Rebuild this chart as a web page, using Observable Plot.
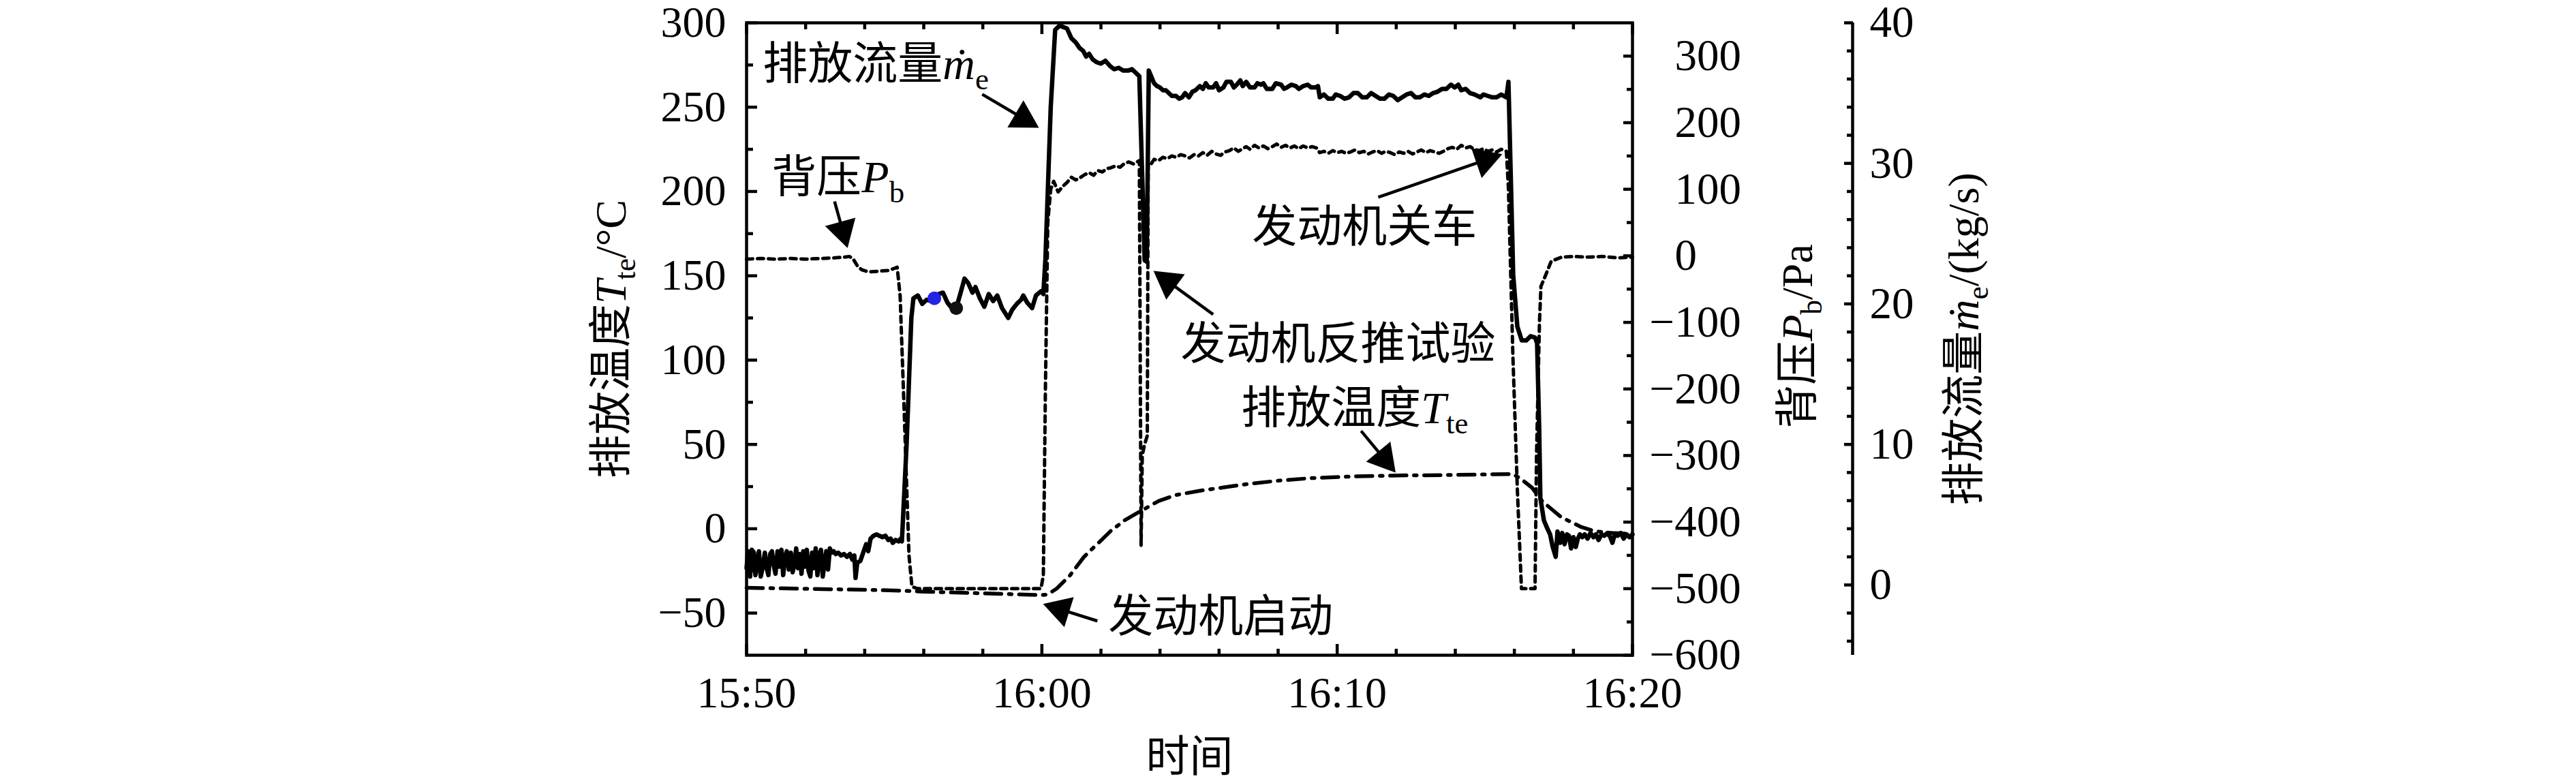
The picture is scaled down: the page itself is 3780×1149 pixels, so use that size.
<!DOCTYPE html>
<html><head><meta charset="utf-8">
<script src="https://cdn.jsdelivr.net/npm/d3@7"></script>
<script src="https://cdn.jsdelivr.net/npm/@observablehq/plot@0.6"></script>
<style>html,body{margin:0;padding:0;background:#fff;}</style>
</head><body><div id="chart"></div>
<script>
// ---------------- data (time in minutes after 15:50) ----------------
const xTickValues = [0, 10, 20, 30];
const xTickLabels = ["15:50", "16:00", "16:10", "16:20"];
const xMinorTicks = [2, 4, 6, 8, 12, 14, 16, 18, 22, 24, 26, 28];
const tMajorTicks = [-50, 0, 50, 100, 150, 200, 250, 300];
const tMinorTicks = [-25, 25, 75, 125, 175, 225, 275];
const pbLabelTicks = [-600, -500, -400, -300, -200, -100, 0, 100, 200, 300];
const pbMinorTicks = [-550, -450, -350, -250, -150, -50, 50, 150, 250];
const flowMajorTicks = [0, 10, 20, 30, 40];
const flowMinorTicks = [-4, -2, 2, 4, 6, 8, 12, 14, 16, 18, 22, 24, 26, 28, 32, 34, 36, 38];

// exhaust mass flow (kg/s)
const flowSeries = [[0,1.2],[0.05,2.4],[0.12,0.6],[0.18,2.5],[0.25,2.3],[0.3,0.7],[0.36,1.4],[0.42,2.4],[0.48,0.6],[0.55,1.3],[0.62,2.3],[0.68,1.2],[0.74,0.7],[0.8,2.2],[0.86,2.4],[0.92,1.4],[0.98,0.8],[1.05,2.4],[1.12,1.3],[1.18,2.5],[1.24,0.7],[1.3,1.9],[1.36,2.4],[1.43,1.1],[1.5,2.3],[1.56,0.9],[1.62,1.5],[1.68,2.6],[1.74,1.2],[1.8,2.2],[1.86,0.8],[1.92,2.4],[1.98,1.3],[2.04,2.5],[2.1,1.0],[2.16,0.6],[2.22,2.3],[2.28,1.2],[2.34,2.6],[2.4,0.7],[2.46,2.1],[2.52,2.5],[2.58,0.6],[2.64,1.6],[2.7,2.4],[2.76,1.1],[2.82,2.6],[2.88,2.3],[2.95,2.4],[3.02,2.2],[3.1,2.3],[3.2,2.1],[3.3,2.2],[3.4,2.0],[3.5,2.2],[3.58,1.8],[3.65,2.1],[3.69,0.5],[3.75,1.6],[3.85,1.7],[3.95,2.3],[4.05,2.9],[4.12,2.4],[4.2,3.3],[4.3,3.5],[4.4,3.6],[4.5,3.5],[4.6,3.4],[4.7,3.5],[4.8,3.2],[4.88,3.3],[4.95,3.0],[5.05,3.2],[5.15,3.1],[5.22,3.3],[5.26,3.1],[5.42,10.0],[5.58,19.0],[5.65,20.4],[5.8,20.6],[5.95,20.0],[6.1,20.3],[6.25,20.2],[6.36,20.4],[6.5,20.7],[6.65,20.8],[6.8,20.1],[6.95,19.7],[7.1,19.7],[7.25,20.8],[7.38,21.8],[7.5,21.5],[7.65,20.8],[7.75,21.2],[7.9,20.4],[8.05,19.8],[8.2,20.7],[8.35,20.2],[8.49,20.6],[8.65,19.7],[8.86,19.0],[9.0,19.6],[9.15,20.0],[9.3,20.3],[9.37,20.6],[9.5,20.1],[9.67,19.7],[9.8,20.6],[9.97,20.9],[10.05,20.7],[10.12,23.2],[10.3,34.0],[10.45,39.5],[10.6,39.8],[10.85,39.6],[11.0,38.9],[11.15,38.6],[11.28,38.2],[11.4,38.0],[11.5,37.6],[11.6,37.8],[11.72,37.4],[11.85,37.2],[12.0,37.1],[12.15,37.3],[12.32,36.9],[12.45,36.7],[12.6,36.8],[12.75,36.6],[12.92,36.6],[13.05,36.7],[13.15,36.5],[13.3,36.2],[13.48,23.1],[13.55,23.0],[13.62,36.6],[13.8,35.7],[13.9,35.5],[14.0,35.4],[14.1,35.2],[14.2,35.2],[14.3,35.0],[14.4,34.8],[14.54,34.8],[14.65,34.6],[14.75,34.7],[14.85,35.0],[14.98,34.7],[15.1,35.1],[15.2,35.2],[15.35,35.5],[15.45,35.3],[15.55,35.7],[15.65,35.4],[15.8,35.4],[15.9,35.7],[16.0,35.2],[16.15,35.4],[16.25,35.8],[16.4,35.8],[16.5,35.4],[16.6,35.6],[16.72,35.9],[16.8,35.5],[16.92,35.8],[17.05,35.4],[17.2,35.4],[17.3,35.7],[17.42,35.6],[17.5,35.7],[17.62,35.3],[17.8,35.3],[17.92,35.7],[18.1,35.6],[18.2,35.3],[18.3,35.4],[18.45,35.6],[18.6,35.5],[18.7,35.3],[18.85,35.5],[19.0,35.6],[19.12,35.4],[19.27,35.4],[19.35,35.5],[19.41,34.7],[19.55,34.9],[19.7,34.6],[19.85,34.6],[19.95,34.9],[20.1,34.8],[20.25,34.6],[20.4,34.7],[20.55,35.0],[20.7,35.0],[20.85,34.7],[21.0,34.7],[21.15,35.0],[21.3,34.8],[21.45,34.6],[21.6,34.6],[21.75,34.9],[21.9,34.8],[22.05,34.5],[22.2,34.7],[22.35,34.9],[22.5,35.0],[22.65,34.7],[22.8,34.7],[22.95,34.9],[23.1,34.8],[23.25,35.0],[23.4,35.1],[23.55,35.3],[23.7,35.3],[23.85,35.6],[23.98,35.4],[24.1,35.6],[24.2,35.2],[24.35,35.3],[24.5,35.0],[24.65,34.9],[24.85,34.7],[24.95,34.9],[25.1,34.8],[25.25,34.7],[25.4,34.7],[25.55,34.9],[25.73,34.7],[25.8,35.8],[25.96,22.1],[26.1,18.4],[26.25,17.4],[26.4,17.4],[26.55,17.7],[26.7,17.6],[26.77,17.2],[26.84,11.2],[26.88,6.2],[27.0,4.6],[27.12,4.0],[27.21,3.6],[27.3,2.7],[27.4,2.0],[27.46,3.8],[27.55,3.0],[27.62,3.7],[27.7,2.9],[27.78,3.6],[27.85,3.5],[27.92,2.6],[28.0,3.4],[28.08,2.7],[28.15,3.3],[28.22,3.6],[28.3,3.4],[28.38,3.6],[28.48,3.3],[28.58,3.7],[28.68,3.4],[28.76,3.6],[28.85,3.2],[28.95,3.6],[29.05,3.5],[29.15,3.7],[29.25,3.4],[29.32,3.0],[29.4,3.6],[29.5,3.5],[29.6,3.7],[29.7,3.3],[29.8,3.6],[29.9,3.4],[30.0,3.6]];

// back pressure (Pa)
const pbSeries = [[0,-5],[0.5,-4],[1.0,-5],[1.5,-4],[2.0,-5],[2.5,-4],[3.0,-3],[3.3,-2],[3.48,-1],[3.6,-4],[3.75,-15],[3.9,-21],[4.05,-23],[4.22,-24],[4.5,-23],[4.8,-22],[5.0,-19],[5.1,-17],[5.2,-60],[5.35,-250],[5.5,-450],[5.6,-497],[5.8,-500],[9.97,-500],[10.05,-480],[10.12,-200],[10.2,50],[10.3,100],[10.4,112],[10.55,96],[10.7,104],[10.85,110],[11.0,118],[11.15,114],[11.28,117],[11.45,122],[11.6,125],[11.75,121],[11.9,128],[12.05,126],[12.2,131],[12.32,132],[12.5,135],[12.65,133],[12.8,139],[12.95,141],[13.1,138],[13.3,143],[13.36,-435],[13.4,-300],[13.47,-285],[13.57,-270],[13.6,140],[13.7,138],[13.8,145],[13.95,143],[14.1,148],[14.25,146],[14.4,150],[14.55,148],[14.7,152],[14.85,150],[15.0,147],[15.15,152],[15.3,150],[15.45,155],[15.6,151],[15.75,157],[15.9,153],[16.05,151],[16.2,156],[16.35,158],[16.5,162],[16.65,157],[16.8,161],[16.92,164],[17.05,160],[17.2,166],[17.35,162],[17.5,165],[17.65,161],[17.8,164],[17.95,168],[18.1,163],[18.25,166],[18.4,162],[18.55,165],[18.7,161],[18.85,165],[19.0,162],[19.15,164],[19.3,162],[19.41,155],[19.55,157],[19.7,154],[19.85,158],[20.0,155],[20.15,157],[20.3,154],[20.45,156],[20.6,159],[20.75,155],[20.9,157],[21.05,153],[21.2,156],[21.35,158],[21.5,154],[21.65,157],[21.8,155],[21.95,152],[22.1,156],[22.25,154],[22.4,157],[22.55,153],[22.7,156],[22.85,159],[23.0,155],[23.15,158],[23.3,156],[23.45,154],[23.6,157],[23.75,161],[23.9,163],[24.05,160],[24.2,166],[24.35,162],[24.5,164],[24.65,160],[24.8,158],[24.95,161],[25.1,157],[25.25,159],[25.4,156],[25.55,160],[25.73,157],[25.8,100],[25.95,-150],[26.1,-350],[26.24,-500],[26.7,-500],[26.75,-300],[26.85,-100],[26.9,-46],[27.05,-30],[27.25,-8],[27.6,-2],[28.0,-1],[28.5,-2],[29.0,-1],[29.5,-3],[30.0,-2]];

// exhaust temperature (°C)
const tteSeries = [[0,-35.0],[2,-35.6],[4,-36.2],[5.26,-36.7],[6,-37.3],[8,-38.3],[9.97,-39.3],[10.2,-39.0],[10.5,-35.5],[10.96,-27.5],[11.42,-16.8],[11.58,-14],[12.0,-7],[12.32,-1.5],[12.8,5],[13.36,10.6],[13.96,16.5],[14.54,20],[15.44,22.8],[16.15,24.5],[16.92,26.4],[18.0,28.5],[19.1,30.0],[20.5,31.0],[22.06,31.6],[23.54,31.8],[25.0,32.2],[25.95,32.4],[26.19,30],[26.6,24.3],[26.95,16.2],[27.58,6.9],[28.27,1],[28.73,-1.5],[29.3,-2.5],[30,-3]];

// two marker points on the flow curve
const markerPoints = [[6.36, 20.4], [7.10, 19.7]];
const markerColors = ["#2323e6", "#111111"];

// annotations (text start in minutes / °C-axis units)
const annoText = ["排放流量<i>\u1E41</i><sub>e</sub>", "背压<i>P</i><sub>b</sub>", "发动机关车", "发动机反推试验", "排放温度<i>T</i><sub>te</sub>", "发动机启动"];
const annoX = [0.55, 0.85, 17.12, 14.7, 16.75, 12.25];
const annoY = [275, 208, 178.5, 109, 71, -52.5];
// arrows: [tailX, tailY, tipX, tipY]
const arrowList = [[7.98, 257.6, 9.9, 237.8], [2.98, 194.1, 3.42, 166.4], [21.39, 196.6, 25.59, 222.1], [15.8, 127.1, 13.78, 152.9], [20.81, 58.0, 21.98, 33.25], [11.88, -54.7, 10.04, -44.6]];

// ---------------- layout ----------------
const W = 3780, H = 1149;
const mL = 1095, mR = 1385, mT = 33, mB = 188;
const xDomain = [0, 30];
const tDomain = [-75, 300], pbDomain = [-600, 350], flowDomain = [-5, 40];
const pbToT = d3.scaleLinear(pbDomain, tDomain);
const flowToT = d3.scaleLinear(flowDomain, tDomain);
const FONT = "'Liberation Serif','Times New Roman','Noto Sans CJK SC',serif";
const fmt = d => d < 0 ? "\u2212" + Math.abs(d) : String(d);
const TW = 4.5;

const pxPerMin = (W - mL - mR) / (xDomain[1] - xDomain[0]);
const pxPerT = (H - mT - mB) / (tDomain[1] - tDomain[0]);
const headLen = 40;
const headR = Math.sqrt((headLen / 3) ** 2 * 3 * Math.sqrt(3) / Math.PI);
const arrows = arrowList.map(([x1, y1, x2, y2]) => {
  const dxp = (x2 - x1) * pxPerMin, dyp = -(y2 - y1) * pxPerT;
  const len = Math.hypot(dxp, dyp), ux = dxp / len, uy = dyp / len;
  const back = headLen * 2 / 3, sb = headLen * 0.6;
  return {x1, y1, x2, y2,
    hx: x2 - ux * back / pxPerMin, hy: y2 + uy * back / pxPerT,
    sx: x2 - ux * sb / pxPerMin, sy: y2 + uy * sb / pxPerT,
    rot: Math.atan2(ux, -uy) * 180 / Math.PI};
});
const annos = annoText.map((t, i) => ({t, x: annoX[i], y: annoY[i]}));

const chart = Plot.plot({
  width: W, height: H,
  marginLeft: mL, marginRight: mR, marginTop: mT, marginBottom: mB,
  x: {domain: xDomain, axis: null},
  y: {domain: tDomain, axis: null},
  style: {fontFamily: FONT, background: "#fff", color: "#000", overflow: "visible"},
  marks: [
    // series
    Plot.line(tteSeries, {x: d => d[0], y: d => d[1], stroke: "#000", strokeWidth: 5.5, strokeDasharray: "24,11,4,11"}),
    Plot.line(pbSeries, {x: d => d[0], y: d => pbToT(d[1]), stroke: "#000", strokeWidth: 5, strokeDasharray: "9,7"}),
    Plot.line(flowSeries, {x: d => d[0], y: d => flowToT(d[1]), stroke: "#000", strokeWidth: 6.5, strokeLinejoin: "round"}),
    Plot.dot(markerPoints, {x: d => d[0], y: d => flowToT(d[1]), r: 10, fill: (d, i) => markerColors[i], stroke: "none"}),
    // frame
    Plot.frame({stroke: "#000", strokeWidth: TW}),
    // inward ticks
    Plot.axisX(xTickValues, {anchor: "bottom", tickSize: -16, strokeWidth: TW, fill: "none", label: null}),
    Plot.axisX(xMinorTicks, {anchor: "bottom", tickSize: -9, strokeWidth: TW, fill: "none", label: null}),
    Plot.axisX(xTickValues, {anchor: "top", tickSize: -16, strokeWidth: TW, fill: "none", label: null}),
    Plot.axisX(xMinorTicks, {anchor: "top", tickSize: -9, strokeWidth: TW, fill: "none", label: null}),
    Plot.axisY(tMajorTicks, {anchor: "left", tickSize: -16, strokeWidth: TW, fill: "none", label: null}),
    Plot.axisY(tMinorTicks, {anchor: "left", tickSize: -10, strokeWidth: TW, fill: "none", label: null}),
    Plot.axisY(pbLabelTicks.map(pbToT), {anchor: "right", tickSize: -14, strokeWidth: TW, fill: "none", label: null}),
    Plot.axisY(pbMinorTicks.map(pbToT), {anchor: "right", tickSize: -9, strokeWidth: TW, fill: "none", label: null}),
    // third axis (mass flow)
    Plot.ruleX([xDomain[1]], {dx: 323, stroke: "#000", strokeWidth: TW}),
    Plot.axisY(flowMajorTicks.map(flowToT), {anchor: "right", dx: 323, tickSize: -13, strokeWidth: TW, fill: "none", label: null}),
    Plot.axisY(flowMinorTicks.map(flowToT), {anchor: "right", dx: 323, tickSize: -9, strokeWidth: TW, fill: "none", label: null}),
    // tick labels
    Plot.axisX(xTickValues, {anchor: "bottom", tickSize: 0, tickPadding: 31, fontSize: 64, stroke: "none", label: null,
      tickFormat: d => xTickLabels[xTickValues.indexOf(d)]}),
    Plot.axisY(tMajorTicks, {anchor: "left", tickSize: 0, tickPadding: 30, fontSize: 64, stroke: "none", label: null, tickFormat: fmt}),
    Plot.text(pbLabelTicks.filter(d => d >= 0), {x: xDomain[1], y: d => pbToT(d), text: fmt, textAnchor: "start", dx: 62, fontSize: 65}),
    Plot.text(pbLabelTicks.filter(d => d < 0), {x: xDomain[1], y: d => pbToT(d), text: fmt, textAnchor: "start", dx: 25, fontSize: 65}),
    Plot.text(flowMajorTicks, {x: xDomain[1], y: d => flowToT(d), text: fmt, textAnchor: "start", dx: 348, fontSize: 65}),
    // axis titles
    Plot.text(["排放温度<i>T</i><sub>te</sub>/°C"], {frameAnchor: "left", textAnchor: "middle", lineAnchor: "middle", dx: -198, rotate: -90, fontSize: 64}),
    Plot.text(["背压<i>P</i><sub>b</sub>/Pa"], {frameAnchor: "right", textAnchor: "middle", lineAnchor: "middle", dx: 243, dy: -4, rotate: -90, fontSize: 64}),
    Plot.text(["排放流量<i>\u1E41</i><sub>e</sub>/(kg/s)"], {frameAnchor: "right", textAnchor: "middle", lineAnchor: "middle", dx: 487, rotate: -90, fontSize: 64}),
    Plot.text(["时间"], {frameAnchor: "bottom", textAnchor: "middle", lineAnchor: "middle", dy: 150, fontSize: 64}),
    // annotations
    Plot.text(annos, {x: "x", y: "y", text: "t", textAnchor: "start", fontSize: 66}),
    Plot.link(arrows, {x1: "x1", y1: "y1", x2: "sx", y2: "sy", stroke: "#000", strokeWidth: 4.5}),
    Plot.dot(arrows, {x: "hx", y: "hy", rotate: "rot", symbol: "triangle", r: headR, fill: "#000", stroke: "none"})
  ]
});
document.getElementById("chart").appendChild(chart);

// rich text: italics and subscripts as tspans
function richify(root) {
  const NS = "http://www.w3.org/2000/svg";
  root.querySelectorAll("text").forEach(t => {
    const s = t.textContent;
    if (!s.includes("<")) return;
    const fs = parseFloat(getComputedStyle(t).fontSize) || 64;
    const parts = s.split(/(<i>.*?<\/i>|<sub>.*?<\/sub>)/).filter(p => p !== "");
    t.textContent = "";
    let lowered = false;
    for (const p of parts) {
      const ts = document.createElementNS(NS, "tspan");
      let m;
      if ((m = p.match(/^<sub>(.*)<\/sub>$/))) {
        ts.textContent = m[1];
        ts.setAttribute("font-size", fs * 0.68);
        if (!lowered) { ts.setAttribute("dy", fs * 0.22); lowered = true; }
      } else {
        if ((m = p.match(/^<i>(.*)<\/i>$/))) { ts.textContent = m[1]; ts.setAttribute("font-style", "italic"); }
        else ts.textContent = p;
        if (lowered) { ts.setAttribute("dy", -fs * 0.22); lowered = false; }
      }
      t.appendChild(ts);
    }
  });
}
richify(chart);
</script></body></html>
